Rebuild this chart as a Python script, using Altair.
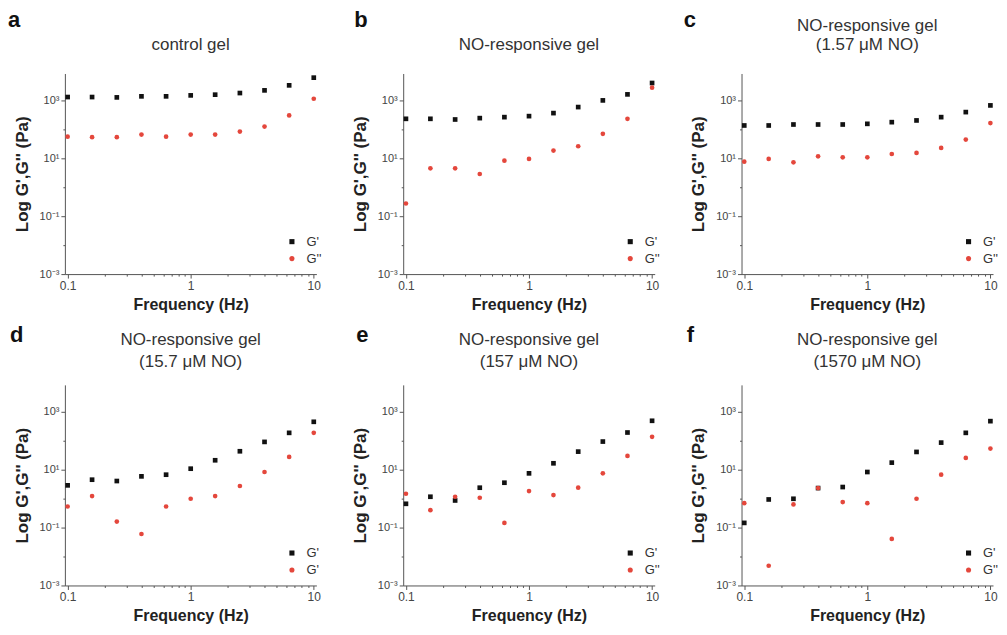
import altair as alt
import pandas as pd

FONT = "Liberation Sans"

freq = [0.1, 0.158, 0.251, 0.398, 0.631, 1.0, 1.58, 2.51, 3.98, 6.31, 10.0]

letters = ["a", "b", "c", "d", "e", "f"]
titles = [
    ["control gel"],
    ["NO-responsive gel"],
    ["NO-responsive gel", "(1.57 μM NO)"],
    ["NO-responsive gel", "(15.7 μM NO)"],
    ["NO-responsive gel", "(157 μM NO)"],
    ["NO-responsive gel", "(1570 μM NO)"],
]

a_gp = [1305, 1305, 1270, 1380, 1380, 1490, 1575, 1795, 2220, 3310, 6100]
a_gpp = [56, 53.5, 53.5, 66, 56, 66, 66, 84, 125, 302, 1140]
b_gp = [231, 231, 219, 244, 264, 286, 364, 588, 1000, 1614, 3990]
b_gpp = [0.275, 4.5, 4.5, 2.86, 8.3, 9.5, 18.5, 26, 70, 231, 2750]
c_gp = [136, 136, 147, 147, 147, 155, 177, 203, 264, 394, 671]
c_gpp = [7.65, 9.5, 7.26, 11.7, 10.8, 10.8, 14.1, 15.3, 22.8, 44.4, 164]
d_gp = [2.87, 4.5, 4.05, 5.87, 6.7, 10.8, 21.1, 43.2, 91, 187, 450]
d_gpp = [0.535, 1.22, 0.161, 0.060, 0.535, 0.99, 1.22, 2.72, 8.3, 27.5, 187]
e_gp = [0.662, 1.16, 0.863, 2.38, 3.54, 7.46, 16.6, 42, 93.5, 192, 488]
e_gpp = [1.47, 0.40, 1.16, 1.07, 0.145, 1.82, 1.32, 2.38, 7.46, 29.8, 136]
f_gp = [0.145, 0.935, 0.987, 2.31, 2.51, 8.3, 17.5, 41, 86, 187, 474]
f_gpp = [0.698, 0.0048, 0.628, 2.31, 0.757, 0.698, 0.0405, 0.987, 6.7, 25.4, 53.5]

gp = [a_gp, b_gp, c_gp, d_gp, e_gp, f_gp]
gpp = [a_gpp, b_gpp, c_gpp, d_gpp, e_gpp, f_gpp]

series = ["G'", "G''"]
legend_labels = [
    ["G'", "G''"], ["G'", "G''"], ["G'", "G''"],
    ["G'", "G'"], ["G'", "G''"], ["G'", "G''"],
]

x_ticks = [0.1, 0.2, 0.3, 0.4, 0.5, 0.6, 0.7, 0.8, 0.9, 1, 2, 3, 4, 5, 6, 7, 8, 9, 10]
y_ticks = [0.001, 0.01, 0.1, 1, 10, 100, 1000]

letter_dx = [-57, -49, -58, -55, -47, -55]

W, H = 252, 201
RED = "#e4473c"


def panel(i):
    df = pd.DataFrame({
        "freq": freq + freq,
        "val": gp[i] + gpp[i],
        "mod": [series[0]] * len(freq) + [series[1]] * len(freq),
    })
    lab = legend_labels[i]
    lexpr = "datum.label == \"G'\" ? \"%s\" : \"%s\"" % (lab[0], lab[1])
    leg = alt.Legend(
        title=None, orient="none", legendX=221, legendY=162,
        labelFont=FONT, labelFontSize=13, labelColor="#333",
        symbolSize=26, rowPadding=3, labelOffset=8, padding=0,
        labelExpr=lexpr,
    )
    top_row = i < 3
    x_axis = alt.Axis(
        title="Frequency (Hz)",
        values=x_ticks,
        labelExpr="datum.value == 0.1 ? '0.1' : datum.value == 1 ? '1' : datum.value == 10 ? '10' : ''",
        tickSize={"condition": {"test": "datum.value == 0.1 || datum.value == 1 || datum.value == 10", "value": 4}, "value": 2},
        labelFontSize=12, labelPadding=2, titlePadding=5,
        titleFontSize=16, titleFontWeight="bold",
    )
    y_axis = alt.Axis(
        title="Log G',G'' (Pa)",
        values=y_ticks,
        labelExpr="datum.value == 1000 ? '10³' : datum.value == 10 ? '10¹' : datum.value == 0.1 ? '10⁻¹' : datum.value == 0.001 ? '10⁻³' : ''",
        tickSize={"condition": {"test": "datum.value == 1000 || datum.value == 10 || datum.value == 0.1 || datum.value == 0.001", "value": 4}, "value": 2},
        labelFontSize=11, labelPadding=2, titlePadding=8,
        titleFontSize=17, titleFontWeight="bold",
    )
    pts = alt.Chart(df).mark_point(filled=True, opacity=1).encode(
        x=alt.X("freq:Q", scale=alt.Scale(type="log", domain=[0.095, 10.5], nice=False), axis=x_axis),
        y=alt.Y("val:Q", scale=alt.Scale(type="log", domain=[0.001, 8500], nice=False), axis=y_axis),
        color=alt.Color("mod:N", scale=alt.Scale(domain=series, range=["#111111", RED]), legend=leg),
        shape=alt.Shape("mod:N", scale=alt.Scale(domain=series, range=["square", "circle"]), legend=leg),
        size=alt.value(22),
    )
    layers = [pts]
    letter = alt.Chart(pd.DataFrame({"t": [letters[i]]})).mark_text(
        align="left", baseline="alphabetic", fontSize=22, fontWeight="bold",
        font=FONT, color="#111",
    ).encode(
        x=alt.value(letter_dx[i]),
        y=alt.value(-47 if top_row else -43),
        text="t:N",
    )
    layers.append(letter)
    lines = titles[i]
    ys = ([-48, -29] if top_row else [-45, -23])[-len(lines):]
    for line, yv in zip(lines, ys):
        layers.append(
            alt.Chart(pd.DataFrame({"t": [line]})).mark_text(
                align="center", baseline="middle", fontSize=17,
                font=FONT, color="#333",
            ).encode(x=alt.value(W / 2), y=alt.value(yv), text="t:N")
        )
    return alt.layer(*layers).properties(width=W, height=H)


panels = [panel(i) for i in range(6)]
chart = alt.concat(
    *panels, columns=3, spacing={"row": 111, "column": 87}, bounds="flush"
).resolve_scale(
    color="independent", shape="independent"
).resolve_legend(color="independent", shape="independent").properties(
    padding={"left": 0, "top": 0, "right": 0, "bottom": 0}
).configure_view(stroke=None).configure_axis(
    grid=False, domainColor="#555", tickColor="#555", labelColor="#444",
    titleColor="#222", labelFont=FONT, titleFont=FONT,
)

chart.save("out.html", embed_options={"renderer": "svg", "actions": False})
